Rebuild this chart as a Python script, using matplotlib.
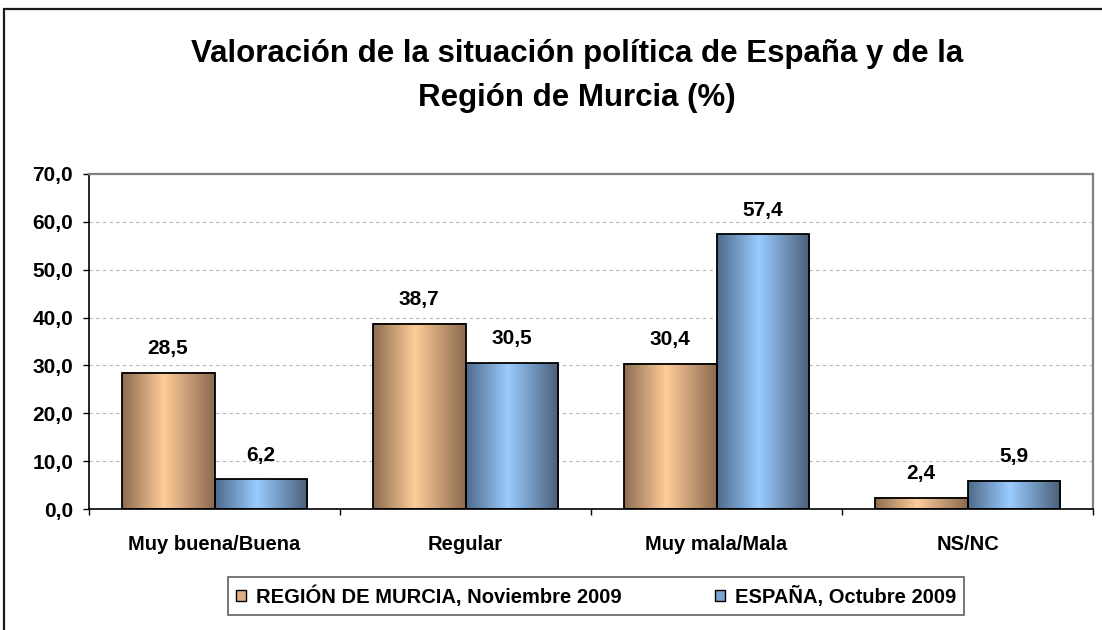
import numpy as np
import matplotlib
matplotlib.use('Agg')
import matplotlib.pyplot as plt
from matplotlib.colors import LinearSegmentedColormap
from matplotlib.patches import Patch, Rectangle

# ---- Data ----
categories = ['Muy buena/Buena', 'Regular', 'Muy mala/Mala', 'NS/NC']
murcia = [28.5, 38.7, 30.4, 2.4]
espana = [6.2, 30.5, 57.4, 5.9]
series_names = ['REGIÓN DE MURCIA, Noviembre 2009', 'ESPAÑA, Octubre 2009']
title_lines = ['Valoración de la situación política de España y de la',
               'Región de Murcia (%)']
y_ticks = [0, 10, 20, 30, 40, 50, 60, 70]

# ---- Styles ----
plt.rcParams['font.family'] = ['Liberation Sans', 'DejaVu Sans']
plt.rcParams['font.weight'] = 'bold'

orange_cmap = LinearSegmentedColormap.from_list(
    'orange', [(0, '#8c6c50'), (0.45, '#ffcc99'), (1, '#8a6a4f')])
blue_cmap = LinearSegmentedColormap.from_list(
    'blue', [(0, '#4f6a8a'), (0.45, '#99ccff'), (1, '#4a5e78')])


def fmt(v):
    return f'{v:.1f}'.replace('.', ',')


def gradient_bars(ax, bars, cmap):
    grad = np.linspace(0, 1, 256)[None, :]
    for p in bars:
        x0, w, h = p.get_x(), p.get_width(), p.get_height()
        ax.imshow(grad, extent=[x0, x0 + w, 0, h], aspect='auto', cmap=cmap,
                  interpolation='bicubic', zorder=2)


fig = plt.figure(figsize=(11.02, 6.30), dpi=100)
W, H = 1102, 630
ax = fig.add_axes([89 / W, 1 - 509 / H, 1004 / W, (509 - 174) / H])

# figure frame (cut at right/bottom like the original)
fig.patches.append(Rectangle((4 / W, -0.1), 1.2, 1 - 9 / H + 0.1,
                             transform=fig.transFigure, fill=False,
                             edgecolor='#1a1a1a', linewidth=1.6))

x = np.arange(len(categories))
bw = 1 / 2.7
b1 = ax.bar(x - bw / 2, murcia, bw, facecolor='none', edgecolor='black',
            linewidth=1.3, zorder=3)
b2 = ax.bar(x + bw / 2, espana, bw, facecolor='none', edgecolor='black',
            linewidth=1.3, zorder=3)
gradient_bars(ax, b1, orange_cmap)
gradient_bars(ax, b2, blue_cmap)

for bars in (b1, b2):
    for p in bars:
        ax.annotate(fmt(p.get_height()),
                    (p.get_x() + p.get_width() / 2, p.get_height()),
                    xytext=(0, 13.5), textcoords='offset points',
                    ha='center', va='baseline', fontsize=15, fontweight='bold')

ax.set_xlim(-0.5, len(categories) - 0.5)
ax.set_ylim(0, 70)
ax.set_yticks(y_ticks, [fmt(v) for v in y_ticks], fontsize=15)
ax.set_xticks(x, categories, fontsize=14.5)
ax.set_xticks(np.arange(len(categories) + 1) - 0.5, minor=True)
ax.tick_params(axis='x', which='major', length=0, pad=19)
ax.tick_params(axis='x', which='minor', length=4.5, width=1, direction='out')
ax.tick_params(axis='y', length=4.5, width=1, direction='out', pad=7)

ax.yaxis.grid(True, linestyle=(0, (3, 3)), color='#b8b8b8', linewidth=0.8)
ax.set_axisbelow(True)

for s in ('left', 'bottom'):
    ax.spines[s].set_color('black')
    ax.spines[s].set_linewidth(1.2)
for s in ('top', 'right'):
    ax.spines[s].set_color('#808080')
    ax.spines[s].set_linewidth(1.6)

# title, two lines with their own baselines
for line, base in zip(title_lines, (62, 106)):
    fig.text(577 / W, 1 - base / H, line, ha='center', va='baseline',
             fontsize=22.5, fontweight='bold')

handles = [Patch(facecolor='#e0b088', edgecolor='black', linewidth=1),
           Patch(facecolor='#7aa4d0', edgecolor='black', linewidth=1)]
leg = fig.legend(handles, series_names, loc='center',
                 bbox_to_anchor=(596 / W, 1 - 596 / H), ncol=2, fontsize=14.5,
                 frameon=True, fancybox=False, edgecolor='#606060',
                 framealpha=1, handlelength=0.5, handleheight=0.5,
                 handletextpad=0.5, columnspacing=4.6, borderpad=0.4)
leg.get_frame().set_linewidth(1.2)

fig.savefig('out.png', dpi=100)
